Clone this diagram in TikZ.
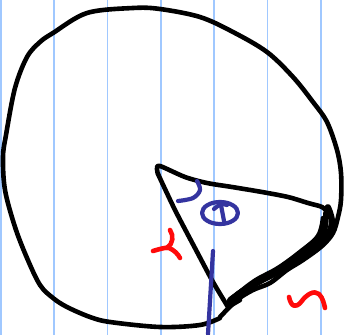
\documentclass[tikz,border=0pt]{standalone}
\begin{document}
\begin{tikzpicture}[x=1pt,y=-1pt,line cap=round,line join=round]
\definecolor{gridblue}{RGB}{160,200,255}
\definecolor{penblue}{RGB}{52,52,160}
\definecolor{penred}{RGB}{255,10,10}
\tikzset{
  gridline/.style={draw=gridblue,line width=1.8pt},
  ink/.style={draw=black,line width=4.6pt},
  inkthick/.style={draw=black,line width=5.8pt},
  blueink/.style={draw=penblue,line width=4.2pt},
  redink/.style={draw=penred,line width=4.6pt}
}
\fill[white] (0,0) rectangle (349,335);
\useasboundingbox (0,0) rectangle (349,335);
% notebook lines
\foreach \x in {0.9,54,107.5,161,214,267.5,321}
  \draw[gridline] (\x,0) -- (\x,335);
% circle outline
\draw[ink] plot[smooth,tension=0.55] coordinates {
 (220,318) (200,325) (160,327) (110,322) (90,317) (67,307) (53,298) (40,285)
 (27,258) (15,227) (5,190) (3,157) (6,135) (15,88) (27,57) (40,42) (53,33)
 (87,13) (133,8) (160,9) (200,17) (233,32) (267,52) (293,77) (313,102)
 (327,122) (337,150) (341,173) (341,200) (338,217) (333,233) (322,246)
 (303,260) (287,270) (270,283) (253,290) (237,300) (220,317)};
% heavy arc scribbles
\draw[inkthick] plot[smooth,tension=0.6] coordinates {
 (328,207) (332,222) (324,240) (302,257) (278,272) (255,284) (238,294) (228,304)};
\draw[inkthick] plot[smooth,tension=0.6] coordinates {
 (326,213) (323,233) (306,250) (284,266) (262,280) (244,290) (230,300)};
\draw[ink] plot[smooth,tension=0.6] coordinates {
 (323,218) (318,236) (300,252) (278,268) (256,280) (240,292) (232,300)};
\draw[ink] (327,207) -- (330,216);
% sector sides
\draw[ink] plot[smooth,tension=0.5] coordinates {
 (158,174) (157,169) (160,166) (185,177) (207,183) (232,187) (262,192)
 (288,197) (308,203) (322,207) (328,213)};
\draw[ink] plot[smooth,tension=0.4] coordinates {
 (158,174) (175,210) (196,250) (213,282) (228,307)};
\draw[ink] (228,307) -- (240,300);
% angle arc and theta
\draw[blueink] plot[smooth,tension=0.6] coordinates {
 (197,181) (200,190) (193,198) (178,201)};
\draw[blueink] (220,213) ellipse [x radius=18,y radius=11];
\draw[blueink] (214,209) .. controls (218,205) and (223,203) .. (227,205);
\draw[blueink] (221,205) -- (224,221);
% vertical blue line
\draw[blueink] (213,251) -- (208,334);
% red r
\draw[redink] (170,230) .. controls (174,236) and (173,244) .. (167,248);
\draw[redink] (153,251) .. controls (160,249) and (166,247) .. (169,248)
  .. controls (174,250) and (178,254) .. (180,258);
% red s
\draw[redink] (289,297) .. controls (291,306) and (295,309) .. (301,302)
  .. controls (307,294) and (314,290) .. (319,294)
  .. controls (323,298) and (324,304) .. (325,308);
\end{tikzpicture}
\end{document}
